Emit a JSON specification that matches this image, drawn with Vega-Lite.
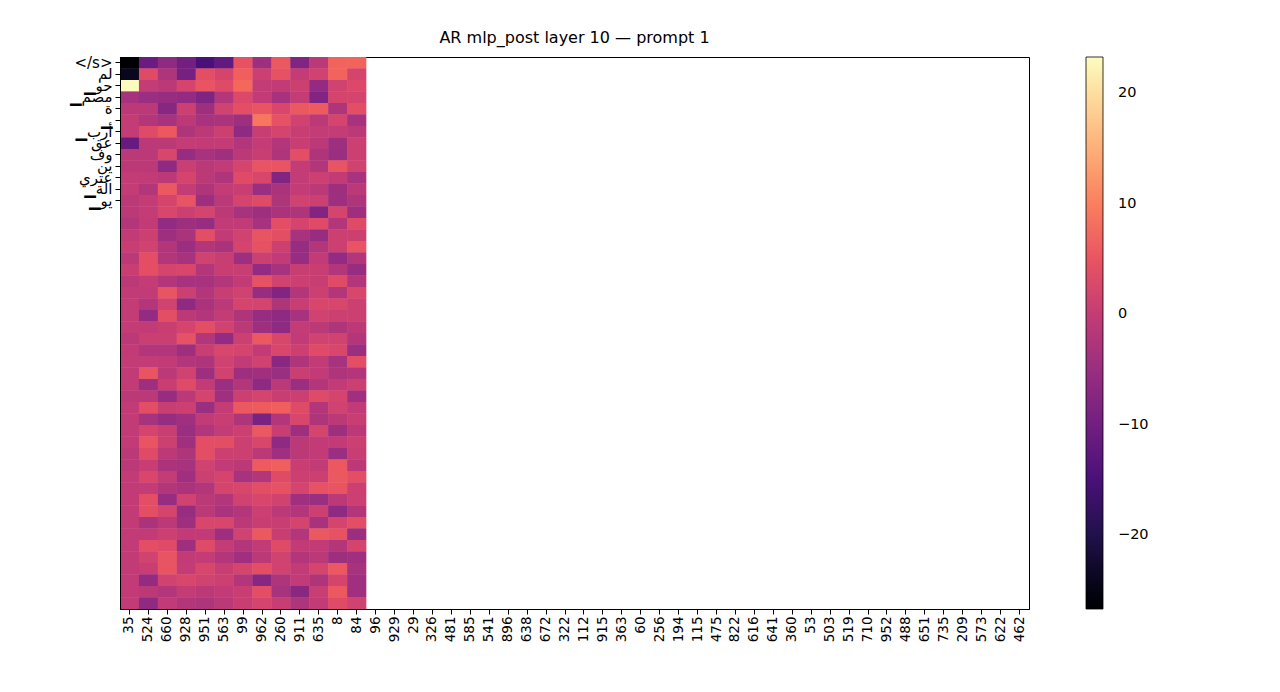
{
"$schema":"https://vega.github.io/schema/vega-lite/v6.json",
"width":909,"height":552,
"autosize":{"type":"none"},
"padding":{"left":120,"top":57,"right":251,"bottom":83},
"background":"white",
"title":{"text":"AR mlp_post layer 10 — prompt 1","fontSize":16,"fontWeight":"normal","font":"DejaVu Sans","color":"black","offset":9,"anchor":"middle"},
"datasets":{"cells":[
{"r":0,"n":"35","v":-26.7},{"r":0,"n":"524","v":-11},{"r":0,"n":"660","v":-6.5},{"r":0,"n":"928","v":-10},{"r":0,"n":"951","v":-15},{"r":0,"n":"563","v":-12},{"r":0,"n":"99","v":4.5},{"r":0,"n":"962","v":-4.5},{"r":0,"n":"260","v":5.5},{"r":0,"n":"911","v":-8},{"r":0,"n":"635","v":-1},{"r":0,"n":"8","v":7},{"r":0,"n":"84","v":7},
{"r":1,"n":"35","v":-24},{"r":1,"n":"524","v":3.5},{"r":1,"n":"660","v":-2.5},{"r":1,"n":"928","v":-9.5},{"r":1,"n":"951","v":4},{"r":1,"n":"563","v":2},{"r":1,"n":"99","v":6.5},{"r":1,"n":"962","v":1},{"r":1,"n":"260","v":4.5},{"r":1,"n":"911","v":0},{"r":1,"n":"635","v":1.5},{"r":1,"n":"8","v":7},{"r":1,"n":"84","v":2.2},
{"r":2,"n":"35","v":23},{"r":2,"n":"524","v":0},{"r":2,"n":"660","v":-1},{"r":2,"n":"928","v":2},{"r":2,"n":"951","v":5},{"r":2,"n":"563","v":3.5},{"r":2,"n":"99","v":7.5},{"r":2,"n":"962","v":0},{"r":2,"n":"260","v":-0.3},{"r":2,"n":"911","v":1},{"r":2,"n":"635","v":-6},{"r":2,"n":"8","v":1.5},{"r":2,"n":"84","v":3},
{"r":3,"n":"35","v":-3.5},{"r":3,"n":"524","v":-5},{"r":3,"n":"660","v":-5.5},{"r":3,"n":"928","v":-6},{"r":3,"n":"951","v":-8.5},{"r":3,"n":"563","v":-2},{"r":3,"n":"99","v":3},{"r":3,"n":"962","v":-0.3},{"r":3,"n":"260","v":-3.5},{"r":3,"n":"911","v":0},{"r":3,"n":"635","v":-8},{"r":3,"n":"8","v":2},{"r":3,"n":"84","v":2},
{"r":4,"n":"35","v":-1},{"r":4,"n":"524","v":-1},{"r":4,"n":"660","v":-7.5},{"r":4,"n":"928","v":1},{"r":4,"n":"951","v":-4.5},{"r":4,"n":"563","v":1.5},{"r":4,"n":"99","v":4},{"r":4,"n":"962","v":5},{"r":4,"n":"260","v":2.5},{"r":4,"n":"911","v":5.5},{"r":4,"n":"635","v":6},{"r":4,"n":"8","v":-2.5},{"r":4,"n":"84","v":4},
{"r":5,"n":"35","v":0},{"r":5,"n":"524","v":-2},{"r":5,"n":"660","v":-3.5},{"r":5,"n":"928","v":-1},{"r":5,"n":"951","v":-3.5},{"r":5,"n":"563","v":-3},{"r":5,"n":"99","v":-4.5},{"r":5,"n":"962","v":9},{"r":5,"n":"260","v":4.5},{"r":5,"n":"911","v":1.5},{"r":5,"n":"635","v":-1},{"r":5,"n":"8","v":2},{"r":5,"n":"84","v":-3.5},
{"r":6,"n":"35","v":0},{"r":6,"n":"524","v":3.5},{"r":6,"n":"660","v":5.5},{"r":6,"n":"928","v":-2.5},{"r":6,"n":"951","v":-1},{"r":6,"n":"563","v":1},{"r":6,"n":"99","v":-6.5},{"r":6,"n":"962","v":0.5},{"r":6,"n":"260","v":2},{"r":6,"n":"911","v":0.5},{"r":6,"n":"635","v":0},{"r":6,"n":"8","v":0},{"r":6,"n":"84","v":-1},
{"r":7,"n":"35","v":-11.5},{"r":7,"n":"524","v":-1},{"r":7,"n":"660","v":-1},{"r":7,"n":"928","v":0},{"r":7,"n":"951","v":-0.3},{"r":7,"n":"563","v":0},{"r":7,"n":"99","v":-2},{"r":7,"n":"962","v":0},{"r":7,"n":"260","v":-2},{"r":7,"n":"911","v":0.5},{"r":7,"n":"635","v":-1},{"r":7,"n":"8","v":-4.5},{"r":7,"n":"84","v":1},
{"r":8,"n":"35","v":-1},{"r":8,"n":"524","v":-1},{"r":8,"n":"660","v":2.5},{"r":8,"n":"928","v":-5.5},{"r":8,"n":"951","v":-3.5},{"r":8,"n":"563","v":-4.3},{"r":8,"n":"99","v":-1},{"r":8,"n":"962","v":0.5},{"r":8,"n":"260","v":-2.5},{"r":8,"n":"911","v":4},{"r":8,"n":"635","v":-2.5},{"r":8,"n":"8","v":-5},{"r":8,"n":"84","v":1},
{"r":9,"n":"35","v":-1},{"r":9,"n":"524","v":-1},{"r":9,"n":"660","v":-6.5},{"r":9,"n":"928","v":0.7},{"r":9,"n":"951","v":-1},{"r":9,"n":"563","v":-0.3},{"r":9,"n":"99","v":2},{"r":9,"n":"962","v":5},{"r":9,"n":"260","v":5},{"r":9,"n":"911","v":0},{"r":9,"n":"635","v":-2},{"r":9,"n":"8","v":5},{"r":9,"n":"84","v":1.5},
{"r":10,"n":"35","v":0},{"r":10,"n":"524","v":-0.3},{"r":10,"n":"660","v":-1},{"r":10,"n":"928","v":2},{"r":10,"n":"951","v":-1},{"r":10,"n":"563","v":-2.5},{"r":10,"n":"99","v":3.5},{"r":10,"n":"962","v":2.5},{"r":10,"n":"260","v":-8},{"r":10,"n":"911","v":0},{"r":10,"n":"635","v":1},{"r":10,"n":"8","v":-0.3},{"r":10,"n":"84","v":-3.5},
{"r":11,"n":"35","v":0},{"r":11,"n":"524","v":-2},{"r":11,"n":"660","v":5.5},{"r":11,"n":"928","v":0},{"r":11,"n":"951","v":-2.5},{"r":11,"n":"563","v":0},{"r":11,"n":"99","v":0.5},{"r":11,"n":"962","v":-5},{"r":11,"n":"260","v":-3},{"r":11,"n":"911","v":0},{"r":11,"n":"635","v":-1},{"r":11,"n":"8","v":-4.5},{"r":11,"n":"84","v":-1},
{"r":12,"n":"35","v":-1},{"r":12,"n":"524","v":0},{"r":12,"n":"660","v":2},{"r":12,"n":"928","v":5},{"r":12,"n":"951","v":-4.5},{"r":12,"n":"563","v":-1},{"r":12,"n":"99","v":2},{"r":12,"n":"962","v":3.5},{"r":12,"n":"260","v":-2.5},{"r":12,"n":"911","v":1.5},{"r":12,"n":"635","v":1},{"r":12,"n":"8","v":-4.5},{"r":12,"n":"84","v":-2.5},
{"r":13,"n":"35","v":-1},{"r":13,"n":"524","v":0},{"r":13,"n":"660","v":2.5},{"r":13,"n":"928","v":1},{"r":13,"n":"951","v":2},{"r":13,"n":"563","v":-1},{"r":13,"n":"99","v":-3.5},{"r":13,"n":"962","v":-4.5},{"r":13,"n":"260","v":-3},{"r":13,"n":"911","v":-2.5},{"r":13,"n":"635","v":-8},{"r":13,"n":"8","v":2},{"r":13,"n":"84","v":-4.5},
{"r":14,"n":"35","v":-2},{"r":14,"n":"524","v":-0.3},{"r":14,"n":"660","v":-6},{"r":14,"n":"928","v":-4.5},{"r":14,"n":"951","v":-5.5},{"r":14,"n":"563","v":-0.3},{"r":14,"n":"99","v":-0.3},{"r":14,"n":"962","v":-3.5},{"r":14,"n":"260","v":4},{"r":14,"n":"911","v":2},{"r":14,"n":"635","v":3.5},{"r":14,"n":"8","v":-2},{"r":14,"n":"84","v":3.5},
{"r":15,"n":"35","v":-0.3},{"r":15,"n":"524","v":1},{"r":15,"n":"660","v":-4.5},{"r":15,"n":"928","v":-3},{"r":15,"n":"951","v":4},{"r":15,"n":"563","v":-0.3},{"r":15,"n":"99","v":1.5},{"r":15,"n":"962","v":5},{"r":15,"n":"260","v":4},{"r":15,"n":"911","v":-3.5},{"r":15,"n":"635","v":-5.5},{"r":15,"n":"8","v":1},{"r":15,"n":"84","v":1},
{"r":16,"n":"35","v":0.5},{"r":16,"n":"524","v":1.5},{"r":16,"n":"660","v":-2},{"r":16,"n":"928","v":-5},{"r":16,"n":"951","v":-2},{"r":16,"n":"563","v":-3},{"r":16,"n":"99","v":2},{"r":16,"n":"962","v":4.5},{"r":16,"n":"260","v":1},{"r":16,"n":"911","v":-5.5},{"r":16,"n":"635","v":-2},{"r":16,"n":"8","v":1},{"r":16,"n":"84","v":5},
{"r":17,"n":"35","v":-1},{"r":17,"n":"524","v":4},{"r":17,"n":"660","v":-2},{"r":17,"n":"928","v":-3.5},{"r":17,"n":"951","v":1.5},{"r":17,"n":"563","v":0.5},{"r":17,"n":"99","v":-4.5},{"r":17,"n":"962","v":1},{"r":17,"n":"260","v":-0.3},{"r":17,"n":"911","v":-5.5},{"r":17,"n":"635","v":-0.3},{"r":17,"n":"8","v":-6},{"r":17,"n":"84","v":-2},
{"r":18,"n":"35","v":0.5},{"r":18,"n":"524","v":4},{"r":18,"n":"660","v":2},{"r":18,"n":"928","v":2.5},{"r":18,"n":"951","v":-2},{"r":18,"n":"563","v":0.5},{"r":18,"n":"99","v":0.5},{"r":18,"n":"962","v":-6},{"r":18,"n":"260","v":-3.5},{"r":18,"n":"911","v":0.5},{"r":18,"n":"635","v":0.5},{"r":18,"n":"8","v":-2},{"r":18,"n":"84","v":-5.5},
{"r":19,"n":"35","v":-1},{"r":19,"n":"524","v":0},{"r":19,"n":"660","v":-2},{"r":19,"n":"928","v":-3.5},{"r":19,"n":"951","v":-3.5},{"r":19,"n":"563","v":-2},{"r":19,"n":"99","v":-0.3},{"r":19,"n":"962","v":4.5},{"r":19,"n":"260","v":1.5},{"r":19,"n":"911","v":1},{"r":19,"n":"635","v":0.5},{"r":19,"n":"8","v":3.5},{"r":19,"n":"84","v":-2},
{"r":20,"n":"35","v":-0.3},{"r":20,"n":"524","v":-0.3},{"r":20,"n":"660","v":5},{"r":20,"n":"928","v":1},{"r":20,"n":"951","v":-2},{"r":20,"n":"563","v":0.5},{"r":20,"n":"99","v":1.5},{"r":20,"n":"962","v":-5.5},{"r":20,"n":"260","v":-8},{"r":20,"n":"911","v":-2},{"r":20,"n":"635","v":1},{"r":20,"n":"8","v":-2},{"r":20,"n":"84","v":2.5},
{"r":21,"n":"35","v":0},{"r":21,"n":"524","v":-2},{"r":21,"n":"660","v":1.5},{"r":21,"n":"928","v":-6.5},{"r":21,"n":"951","v":-3},{"r":21,"n":"563","v":-1},{"r":21,"n":"99","v":2},{"r":21,"n":"962","v":2},{"r":21,"n":"260","v":-2.5},{"r":21,"n":"911","v":0.5},{"r":21,"n":"635","v":2.5},{"r":21,"n":"8","v":2.5},{"r":21,"n":"84","v":1},
{"r":22,"n":"35","v":0},{"r":22,"n":"524","v":-6},{"r":22,"n":"660","v":4},{"r":22,"n":"928","v":-1},{"r":22,"n":"951","v":-2},{"r":22,"n":"563","v":0},{"r":22,"n":"99","v":-2.5},{"r":22,"n":"962","v":-5.5},{"r":22,"n":"260","v":-6.5},{"r":22,"n":"911","v":-3.5},{"r":22,"n":"635","v":1.5},{"r":22,"n":"8","v":1},{"r":22,"n":"84","v":1},
{"r":23,"n":"35","v":0},{"r":23,"n":"524","v":-0.3},{"r":23,"n":"660","v":0.5},{"r":23,"n":"928","v":2},{"r":23,"n":"951","v":4},{"r":23,"n":"563","v":1.5},{"r":23,"n":"99","v":-1},{"r":23,"n":"962","v":-4.5},{"r":23,"n":"260","v":-6.5},{"r":23,"n":"911","v":0},{"r":23,"n":"635","v":-1},{"r":23,"n":"8","v":-2.5},{"r":23,"n":"84","v":-1},
{"r":24,"n":"35","v":-1},{"r":24,"n":"524","v":0.7},{"r":24,"n":"660","v":0.7},{"r":24,"n":"928","v":4.5},{"r":24,"n":"951","v":-2},{"r":24,"n":"563","v":-6},{"r":24,"n":"99","v":1},{"r":24,"n":"962","v":5.5},{"r":24,"n":"260","v":2.5},{"r":24,"n":"911","v":-0.3},{"r":24,"n":"635","v":1.5},{"r":24,"n":"8","v":1.5},{"r":24,"n":"84","v":-2},
{"r":25,"n":"35","v":-0.3},{"r":25,"n":"524","v":-2},{"r":25,"n":"660","v":-2},{"r":25,"n":"928","v":-4.5},{"r":25,"n":"951","v":0.5},{"r":25,"n":"563","v":2.5},{"r":25,"n":"99","v":2},{"r":25,"n":"962","v":-0.3},{"r":25,"n":"260","v":2.5},{"r":25,"n":"911","v":1},{"r":25,"n":"635","v":3.5},{"r":25,"n":"8","v":2.5},{"r":25,"n":"84","v":-5},
{"r":26,"n":"35","v":0},{"r":26,"n":"524","v":0},{"r":26,"n":"660","v":-0.3},{"r":26,"n":"928","v":-2},{"r":26,"n":"951","v":-2.5},{"r":26,"n":"563","v":1.5},{"r":26,"n":"99","v":-0.3},{"r":26,"n":"962","v":1.5},{"r":26,"n":"260","v":-7},{"r":26,"n":"911","v":-2.5},{"r":26,"n":"635","v":-0.3},{"r":26,"n":"8","v":-3.5},{"r":26,"n":"84","v":4},
{"r":27,"n":"35","v":-0.3},{"r":27,"n":"524","v":5},{"r":27,"n":"660","v":-1},{"r":27,"n":"928","v":1.5},{"r":27,"n":"951","v":-4.5},{"r":27,"n":"563","v":1.5},{"r":27,"n":"99","v":-4.5},{"r":27,"n":"962","v":-4.3},{"r":27,"n":"260","v":-5},{"r":27,"n":"911","v":0.7},{"r":27,"n":"635","v":-0.3},{"r":27,"n":"8","v":-2.5},{"r":27,"n":"84","v":-2},
{"r":28,"n":"35","v":-0.3},{"r":28,"n":"524","v":-4.5},{"r":28,"n":"660","v":0.5},{"r":28,"n":"928","v":3.5},{"r":28,"n":"951","v":-0.3},{"r":28,"n":"563","v":-5},{"r":28,"n":"99","v":-2},{"r":28,"n":"962","v":-6.5},{"r":28,"n":"260","v":-1},{"r":28,"n":"911","v":-5},{"r":28,"n":"635","v":-2},{"r":28,"n":"8","v":-0.3},{"r":28,"n":"84","v":1},
{"r":29,"n":"35","v":-1},{"r":29,"n":"524","v":-1},{"r":29,"n":"660","v":-5.5},{"r":29,"n":"928","v":-1},{"r":29,"n":"951","v":2},{"r":29,"n":"563","v":-4.3},{"r":29,"n":"99","v":1},{"r":29,"n":"962","v":2},{"r":29,"n":"260","v":0.5},{"r":29,"n":"911","v":1},{"r":29,"n":"635","v":3.5},{"r":29,"n":"8","v":2},{"r":29,"n":"84","v":-4.3},
{"r":30,"n":"35","v":-0.3},{"r":30,"n":"524","v":4},{"r":30,"n":"660","v":0.5},{"r":30,"n":"928","v":1},{"r":30,"n":"951","v":-5},{"r":30,"n":"563","v":0},{"r":30,"n":"99","v":5.5},{"r":30,"n":"962","v":6},{"r":30,"n":"260","v":6.5},{"r":30,"n":"911","v":3.5},{"r":30,"n":"635","v":-2},{"r":30,"n":"8","v":1.5},{"r":30,"n":"84","v":-0.3},
{"r":31,"n":"35","v":-0.3},{"r":31,"n":"524","v":-3.5},{"r":31,"n":"660","v":-5.5},{"r":31,"n":"928","v":-4.3},{"r":31,"n":"951","v":-0.3},{"r":31,"n":"563","v":0.5},{"r":31,"n":"99","v":-2.5},{"r":31,"n":"962","v":-9},{"r":31,"n":"260","v":-2},{"r":31,"n":"911","v":2.5},{"r":31,"n":"635","v":-2.5},{"r":31,"n":"8","v":-1},{"r":31,"n":"84","v":0.5},
{"r":32,"n":"35","v":-0.3},{"r":32,"n":"524","v":2},{"r":32,"n":"660","v":0.5},{"r":32,"n":"928","v":-5},{"r":32,"n":"951","v":-2},{"r":32,"n":"563","v":0},{"r":32,"n":"99","v":1},{"r":32,"n":"962","v":5.5},{"r":32,"n":"260","v":0.5},{"r":32,"n":"911","v":-4.5},{"r":32,"n":"635","v":2},{"r":32,"n":"8","v":-4.5},{"r":32,"n":"84","v":-1},
{"r":33,"n":"35","v":-0.3},{"r":33,"n":"524","v":5},{"r":33,"n":"660","v":1},{"r":33,"n":"928","v":-4.3},{"r":33,"n":"951","v":4},{"r":33,"n":"563","v":4},{"r":33,"n":"99","v":1},{"r":33,"n":"962","v":2.5},{"r":33,"n":"260","v":-6.5},{"r":33,"n":"911","v":-1},{"r":33,"n":"635","v":-0.3},{"r":33,"n":"8","v":-0.3},{"r":33,"n":"84","v":1},
{"r":34,"n":"35","v":-1},{"r":34,"n":"524","v":3.5},{"r":34,"n":"660","v":-1},{"r":34,"n":"928","v":-2.5},{"r":34,"n":"951","v":4},{"r":34,"n":"563","v":1},{"r":34,"n":"99","v":1},{"r":34,"n":"962","v":-1},{"r":34,"n":"260","v":-4.3},{"r":34,"n":"911","v":-1},{"r":34,"n":"635","v":-0.3},{"r":34,"n":"8","v":-5},{"r":34,"n":"84","v":0.5},
{"r":35,"n":"35","v":-1},{"r":35,"n":"524","v":0.5},{"r":35,"n":"660","v":-3},{"r":35,"n":"928","v":-3.5},{"r":35,"n":"951","v":1.5},{"r":35,"n":"563","v":-0.3},{"r":35,"n":"99","v":-1},{"r":35,"n":"962","v":6},{"r":35,"n":"260","v":6.5},{"r":35,"n":"911","v":0.5},{"r":35,"n":"635","v":-0.3},{"r":35,"n":"8","v":5.5},{"r":35,"n":"84","v":-1},
{"r":36,"n":"35","v":-0.3},{"r":36,"n":"524","v":2.5},{"r":36,"n":"660","v":0},{"r":36,"n":"928","v":-4.3},{"r":36,"n":"951","v":1},{"r":36,"n":"563","v":2},{"r":36,"n":"99","v":-3.5},{"r":36,"n":"962","v":-2},{"r":36,"n":"260","v":3.5},{"r":36,"n":"911","v":1},{"r":36,"n":"635","v":1},{"r":36,"n":"8","v":5.5},{"r":36,"n":"84","v":4},
{"r":37,"n":"35","v":-0.3},{"r":37,"n":"524","v":0},{"r":37,"n":"660","v":-2},{"r":37,"n":"928","v":-3},{"r":37,"n":"951","v":-2},{"r":37,"n":"563","v":2},{"r":37,"n":"99","v":2.5},{"r":37,"n":"962","v":4},{"r":37,"n":"260","v":4.5},{"r":37,"n":"911","v":2},{"r":37,"n":"635","v":4.5},{"r":37,"n":"8","v":5},{"r":37,"n":"84","v":1},
{"r":38,"n":"35","v":-0.3},{"r":38,"n":"524","v":4},{"r":38,"n":"660","v":-5.5},{"r":38,"n":"928","v":1.5},{"r":38,"n":"951","v":-1},{"r":38,"n":"563","v":-2},{"r":38,"n":"99","v":1.5},{"r":38,"n":"962","v":2.5},{"r":38,"n":"260","v":1.5},{"r":38,"n":"911","v":-4.3},{"r":38,"n":"635","v":-5},{"r":38,"n":"8","v":-1},{"r":38,"n":"84","v":1},
{"r":39,"n":"35","v":-0.3},{"r":39,"n":"524","v":4},{"r":39,"n":"660","v":2},{"r":39,"n":"928","v":-5.5},{"r":39,"n":"951","v":-1},{"r":39,"n":"563","v":-3},{"r":39,"n":"99","v":-2},{"r":39,"n":"962","v":1},{"r":39,"n":"260","v":-1},{"r":39,"n":"911","v":-2},{"r":39,"n":"635","v":1},{"r":39,"n":"8","v":-6.5},{"r":39,"n":"84","v":-2},
{"r":40,"n":"35","v":-0.3},{"r":40,"n":"524","v":-3},{"r":40,"n":"660","v":-1},{"r":40,"n":"928","v":-4.5},{"r":40,"n":"951","v":2.5},{"r":40,"n":"563","v":2.5},{"r":40,"n":"99","v":-1},{"r":40,"n":"962","v":0.5},{"r":40,"n":"260","v":0.5},{"r":40,"n":"911","v":2},{"r":40,"n":"635","v":-3.5},{"r":40,"n":"8","v":2},{"r":40,"n":"84","v":4},
{"r":41,"n":"35","v":-0.3},{"r":41,"n":"524","v":-0.3},{"r":41,"n":"660","v":1},{"r":41,"n":"928","v":-0.3},{"r":41,"n":"951","v":-0.3},{"r":41,"n":"563","v":-4.5},{"r":41,"n":"99","v":1.5},{"r":41,"n":"962","v":5.5},{"r":41,"n":"260","v":0.5},{"r":41,"n":"911","v":-2},{"r":41,"n":"635","v":5.5},{"r":41,"n":"8","v":4.5},{"r":41,"n":"84","v":-5},
{"r":42,"n":"35","v":-0.3},{"r":42,"n":"524","v":4},{"r":42,"n":"660","v":3.5},{"r":42,"n":"928","v":-4.5},{"r":42,"n":"951","v":3.5},{"r":42,"n":"563","v":0},{"r":42,"n":"99","v":-2},{"r":42,"n":"962","v":-0.3},{"r":42,"n":"260","v":3.5},{"r":42,"n":"911","v":-0.3},{"r":42,"n":"635","v":-0.3},{"r":42,"n":"8","v":-2},{"r":42,"n":"84","v":2},
{"r":43,"n":"35","v":-0.3},{"r":43,"n":"524","v":1.5},{"r":43,"n":"660","v":5},{"r":43,"n":"928","v":-0.3},{"r":43,"n":"951","v":0},{"r":43,"n":"563","v":-2},{"r":43,"n":"99","v":-4.3},{"r":43,"n":"962","v":-1},{"r":43,"n":"260","v":1.5},{"r":43,"n":"911","v":-2},{"r":43,"n":"635","v":-1},{"r":43,"n":"8","v":-4.5},{"r":43,"n":"84","v":-4.3},
{"r":44,"n":"35","v":-0.3},{"r":44,"n":"524","v":0.5},{"r":44,"n":"660","v":5},{"r":44,"n":"928","v":0},{"r":44,"n":"951","v":2.5},{"r":44,"n":"563","v":0.5},{"r":44,"n":"99","v":2},{"r":44,"n":"962","v":4},{"r":44,"n":"260","v":1.5},{"r":44,"n":"911","v":-0.3},{"r":44,"n":"635","v":2},{"r":44,"n":"8","v":5.5},{"r":44,"n":"84","v":-3.5},
{"r":45,"n":"35","v":-0.3},{"r":45,"n":"524","v":-6},{"r":45,"n":"660","v":1.5},{"r":45,"n":"928","v":2.5},{"r":45,"n":"951","v":1.5},{"r":45,"n":"563","v":1},{"r":45,"n":"99","v":-2},{"r":45,"n":"962","v":-7.5},{"r":45,"n":"260","v":-2.5},{"r":45,"n":"911","v":-0.3},{"r":45,"n":"635","v":-2.5},{"r":45,"n":"8","v":2},{"r":45,"n":"84","v":-4.3},
{"r":46,"n":"35","v":-0.3},{"r":46,"n":"524","v":-1},{"r":46,"n":"660","v":-2},{"r":46,"n":"928","v":0},{"r":46,"n":"951","v":-1},{"r":46,"n":"563","v":-0.3},{"r":46,"n":"99","v":0.5},{"r":46,"n":"962","v":4},{"r":46,"n":"260","v":-3.5},{"r":46,"n":"911","v":-7},{"r":46,"n":"635","v":0.5},{"r":46,"n":"8","v":5.5},{"r":46,"n":"84","v":-4.3},
{"r":47,"n":"35","v":-0.3},{"r":47,"n":"524","v":-6.5},{"r":47,"n":"660","v":-0.3},{"r":47,"n":"928","v":-2},{"r":47,"n":"951","v":-2.5},{"r":47,"n":"563","v":-1},{"r":47,"n":"99","v":0.5},{"r":47,"n":"962","v":2},{"r":47,"n":"260","v":0.5},{"r":47,"n":"911","v":-2.5},{"r":47,"n":"635","v":-0.3},{"r":47,"n":"8","v":3.5},{"r":47,"n":"84","v":1.5}
]},
"data":{"name":"cells"},
"encoding":{
"x":{"field":"n","type":"ordinal","title":null,
"scale":{"domain":["35","524","660","928","951","563","99","962","260","911","635","8","84","96","929","29","326","481","585","541","896","638","672","322","112","915","363","60","256","194","115","475","822","616","641","360","53","503","519","710","952","488","651","735","209","573","622","462"],"paddingInner":0,"paddingOuter":0},
"axis":{"labelAngle":-90,"labelPadding":2,"tickSize":5,"labelFontSize":13.5}},
"y":{"field":"r","type":"ordinal","title":null,
"scale":{"domain":[0,1,2,3,4,5,6,7,8,9,10,11,12,13,14,15,16,17,18,19,20,21,22,23,24,25,26,27,28,29,30,31,32,33,34,35,36,37,38,39,40,41,42,43,44,45,46,47],"paddingInner":0,"paddingOuter":0},
"axis":{"values":[0,1,2,3,4,5,6,7,8,9,10,11,12],"labelExpr":"['</s>','لم','▁حو','▁مصم','ة','▁','▁أرب','عق','وف','ين','عتري','▁الة','▁يو'][datum.value]","labelPadding":3,"tickSize":5,"labelFontSize":15,"labelOverlap":false}},
"color":{"field":"v","type":"quantitative",
"scale":{"scheme":"magma","domain":[-26.7,23.3],"nice":false,"zero":false},
"legend":{"type":"gradient","orient":"none","legendX":966,"legendY":0,"direction":"vertical","title":null,"gradientLength":552,"gradientThickness":17,"gradientStrokeColor":"black","gradientStrokeWidth":0.8,"values":[-20,-10,0,10,20],"labelExpr":"replace(datum.label,'-','−')","labelFontSize":14.5,"labelOffset":15,"labelOverlap":false,"labelColor":"black","labelFont":"DejaVu Sans","padding":0}}
},
"layer":[
{"mark":{"type":"rect"}},
{"mark":{"type":"rect"}}
],
"config":{
"view":{"stroke":"black","strokeWidth":1},
"axis":{"domainColor":"black","tickColor":"black","labelColor":"black","labelFont":"DejaVu Sans","grid":false,"domainWidth":1,"tickWidth":1}
}
}
